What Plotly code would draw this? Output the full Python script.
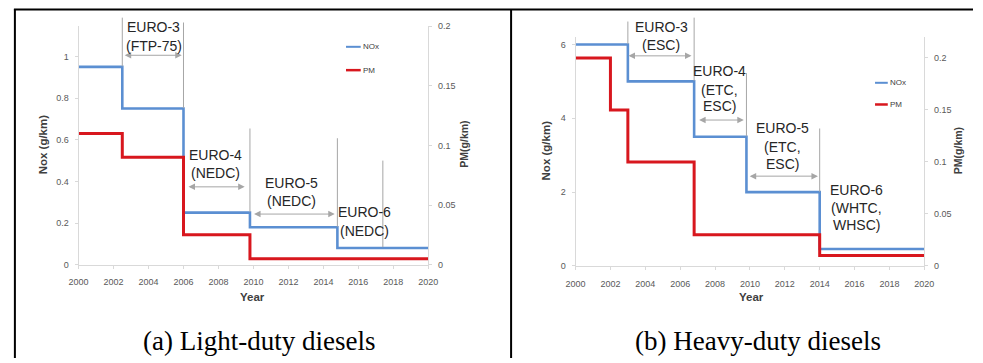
import plotly.graph_objects as go

W, H = 983, 363

# ---------------- data ----------------
# (a) Light-duty diesels
years_a_nox = [2000, 2002.5, 2006, 2009.8, 2014.8, 2020]
nox_a = [0.95, 0.75, 0.25, 0.18, 0.08, 0.08]
years_a_pm = [2000, 2002.5, 2006, 2009.8, 2020]
pm_a = [0.11, 0.09, 0.025, 0.005, 0.005]

# (b) Heavy-duty diesels
years_b_nox = [2000, 2003, 2006.8, 2009.8, 2014, 2020]
nox_b = [6.0, 5.0, 3.5, 2.0, 0.46, 0.46]
years_b_pm = [2000, 2002, 2003, 2006.8, 2014, 2020]
pm_b = [0.2, 0.15, 0.1, 0.03, 0.01, 0.01]

x_ticks = list(range(2000, 2021, 2))

stage_a_labels = [["EURO-3", "(FTP-75)"], ["EURO-4", "(NEDC)"], ["EURO-5", "(NEDC)"], ["EURO-6", "(NEDC)"]]
stage_b_labels = [["EURO-3", "(ESC)"], ["EURO-4", "(ETC,", "ESC)"], ["EURO-5", "(ETC,", "ESC)"], ["EURO-6", "(WHTC,", "WHSC)"]]

# ---------------- styling helpers ----------------
def py(p):
    return 1 - p / H

def px(p):
    return p / W

BLUE = "#5b8fd2"
RED = "#d8171e"
AXC = "#d9d9d9"
TICKC = "#595959"
ANNC = "#a6a6a6"
FONT = "Liberation Sans"

fig = go.Figure()

fig.add_trace(go.Scatter(x=years_a_nox, y=nox_a, mode="lines", line=dict(color=BLUE, width=2.6, shape="hv"),
                         xaxis="x", yaxis="y", name="NOx", showlegend=False))
fig.add_trace(go.Scatter(x=years_a_pm, y=pm_a, mode="lines", line=dict(color=RED, width=3, shape="hv"),
                         xaxis="x", yaxis="y2", name="PM", showlegend=False))
fig.add_trace(go.Scatter(x=years_b_nox, y=nox_b, mode="lines", line=dict(color=BLUE, width=2.6, shape="hv"),
                         xaxis="x2", yaxis="y3", name="NOx", showlegend=False))
fig.add_trace(go.Scatter(x=years_b_pm, y=pm_b, mode="lines", line=dict(color=RED, width=3, shape="hv"),
                         xaxis="x2", yaxis="y4", name="PM", showlegend=False))

tickfont = dict(family=FONT, size=9, color=TICKC)
common_x = dict(range=[2000, 2020], tickvals=x_ticks, showgrid=False, zeroline=False, showline=True,
                linecolor=AXC, linewidth=1, ticks="outside", ticklen=3, tickcolor=AXC,
                tickfont=tickfont, ticklabelstandoff=6, fixedrange=True)
common_y = dict(showgrid=False, zeroline=False, showline=True, linecolor=AXC, linewidth=1,
                ticks="outside", ticklen=3, tickcolor=AXC, tickfont=tickfont, ticklabelstandoff=4,
                fixedrange=True)

fig.update_layout(
    width=W, height=H, margin=dict(l=0, r=0, t=0, b=0),
    paper_bgcolor="white", plot_bgcolor="rgba(0,0,0,0)",
    xaxis=dict(domain=[px(70), px(427)], anchor="y", **common_x),
    yaxis=dict(domain=[py(267), py(21.7)], anchor="x", range=[0, 1.146], tickvals=[0, 0.2, 0.4, 0.6, 0.8, 1],
               ticktext=["0", "0.2", "0.4", "0.6", "0.8", "1"], **common_y),
    yaxis2=dict(overlaying="y", side="right", anchor="x", range=[0, 0.2], tickvals=[0, 0.05, 0.1, 0.15, 0.2],
                ticktext=["0", "0.05", "0.1", "0.15", "0.2"], **common_y),
    xaxis2=dict(domain=[px(577.3), px(933.3)], anchor="y3", **common_x),
    yaxis3=dict(domain=[py(268.3), py(33)], anchor="x2", range=[0, 6.2], tickvals=[0, 2, 4, 6], **common_y),
    yaxis4=dict(overlaying="y3", side="right", anchor="x2", range=[0, 0.22], tickvals=[0, 0.05, 0.1, 0.15, 0.2],
                ticktext=["0", "0.05", "0.1", "0.15", "0.2"], **common_y),
    showlegend=False,
)

shapes = []
annots = []

# table borders
shapes.append(dict(type="line", xref="paper", yref="paper", x0=px(4), x1=1, y0=py(4.5), y1=py(4.5),
                   line=dict(color="black", width=2)))
shapes.append(dict(type="line", xref="paper", yref="paper", x0=px(5), x1=px(5), y0=py(4), y1=0,
                   line=dict(color="black", width=2)))
shapes.append(dict(type="line", xref="paper", yref="paper", x0=px(511.5), x1=px(511.5), y0=py(4), y1=0,
                   line=dict(color="black", width=2)))

# stage boundary lines (year, top px, bottom px)
vlines_a = [(2002.5, 13, 63), (2006, 18, 106), (2009.8, 127, 213), (2014.8, 137, 228), (2017.4, 160, 249)]
vlines_b = [(2003, 17, 40), (2006.8, 13, 78), (2009.8, 70, 135), (2014, 127, 192)]
for xr, vl in [("x", vlines_a), ("x2", vlines_b)]:
    for yr, t, b in vl:
        shapes.append(dict(type="line", xref=xr, yref="paper", x0=yr, x1=yr, y0=py(b), y1=py(t),
                           line=dict(color=ANNC, width=1)))

# double arrows (start year, end year, y px)
arrows_a = [(2002.55, 2005.9, 51.7), (2006.2, 2009.5, 187), (2009.95, 2014.65, 215)]
arrows_b = [(2002.95, 2006.65, 52.3), (2007.0, 2009.65, 118.3), (2009.9, 2013.9, 176)]
for xr, al in [("x", arrows_a), ("x2", arrows_b)]:
    for s, e, yp in al:
        annots.append(dict(xref=xr, yref="paper", x=e, y=py(yp), axref=xr, ayref="pixel", ax=s, ay=0,
                           text="", showarrow=True, arrowside="end+start", arrowhead=2, startarrowhead=2,
                           arrowsize=1.3, startarrowsize=1.3, arrowwidth=1, arrowcolor=ANNC))

# stage labels (center year, list of line y px)
pos_a = [(2004.3, [23, 42]), (2007.85, [154, 173]), (2012.15, [183, 202]), (2016.35, [213, 232])]
pos_b = [(2004.92, [22.7, 40.7]), (2008.26, [68.3, 87.3, 104.3]), (2011.85, [126.7, 146, 163.3]),
         (2016.12, [190.7, 208.3, 226.7])]
for xr, labels, pos in [("x", stage_a_labels, pos_a), ("x2", stage_b_labels, pos_b)]:
    for lines, (cx, ys) in zip(labels, pos):
        for txt, yp in zip(lines, ys):
            annots.append(dict(xref=xr, yref="paper", x=cx, y=py(yp), text=txt, showarrow=False,
                               xanchor="center", yanchor="middle",
                               font=dict(family=FONT, size=14, color="#262626")))

# legends
for (lx0, lx1, ny, pyy) in [(343, 358, 43, 67), (883, 896, 80, 102.3)]:
    for yy, col, name in [(ny, BLUE, "NOx"), (pyy, RED, "PM")]:
        shapes.append(dict(type="line", xref="paper", yref="paper", x0=px(lx0), x1=px(lx1), y0=py(yy), y1=py(yy),
                           line=dict(color=col, width=2.5 if col == RED else 2)))
        annots.append(dict(xref="paper", yref="paper", x=px(lx1 + 0.5), y=py(yy), text=name, showarrow=False,
                           xanchor="left", yanchor="middle", font=dict(family=FONT, size=8, color="#404040")))

# axis titles
titles = [
    ("Nox (g/km)", 34, 143, -90, 11.5),
    ("PM(g/km)", 463, 143, -90, 10.5),
    ("Year", 248, 300, 0, 11.5),
    ("Nox (g/km)", 546.7, 150, -90, 11.5),
    ("PM(g/km)", 968, 150, -90, 10.5),
    ("Year", 757, 300, 0, 11.5),
]
for txt, x, y, ang, sz in titles:
    annots.append(dict(xref="paper", yref="paper", x=px(x), y=py(y), text="<b>%s</b>" % txt, showarrow=False,
                       textangle=ang, xanchor="center", yanchor="middle",
                       font=dict(family=FONT, size=sz, color="#404040")))

# captions
for txt, x in [("(a) Light-duty diesels", 254), ("(b) Heavy-duty diesels", 764)]:
    annots.append(dict(xref="paper", yref="paper", x=px(x), y=py(346), text=txt, showarrow=False,
                       xanchor="center", yanchor="middle",
                       font=dict(family="Liberation Serif", size=27, color="black")))

fig.update_layout(shapes=shapes, annotations=annots)
fig.write_html("out.html")
